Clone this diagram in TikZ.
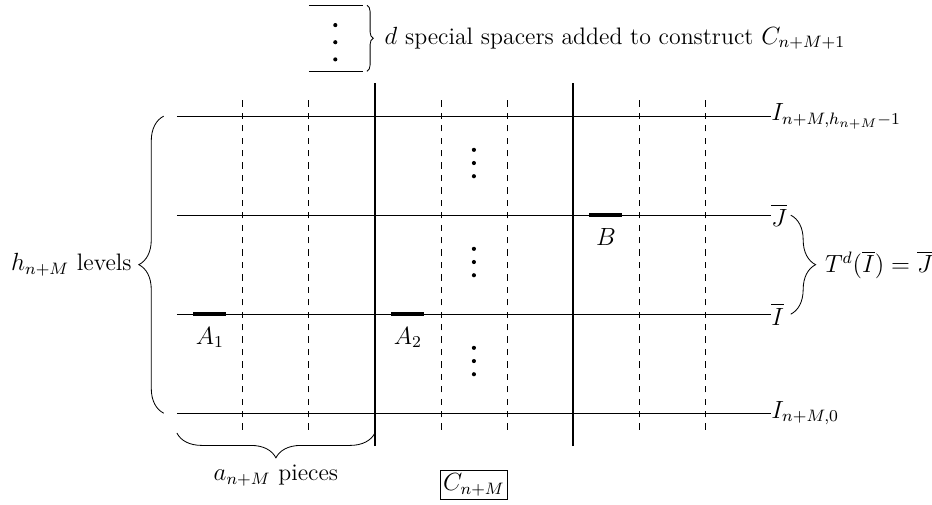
\documentclass[tikz,border=0pt]{standalone}
\usepackage{amsmath,amssymb}
\usetikzlibrary{decorations.pathreplacing,positioning}
\tikzset{
  lvl/.style    ={line width=0.5pt},
  cut/.style    ={thick},
  piece/.style  ={dashed},
  seg/.style    ={line width=1.8pt},
  lvllabel/.style={anchor=west, inner sep=0pt},
  brc/.style    ={decorate, decoration={brace, amplitude=#1}},
  brc/.default=12pt,
}
\newcommand{\dotcol}[3]{% x, middle y, gap
  \foreach \k in {-1,0,1}
    \fill (#1,#2+\k*#3) circle (1pt);}
\begin{document}
\begin{tikzpicture}[x=1.12cm,y=1.12cm,font=\fontsize{11.5}{14}\selectfont]
  \useasboundingbox (-2.68,-1.38) rectangle (11.44,6.26);
  %% levels of the tower
  \coordinate (b0) at (0,0);     \coordinate (b1) at (9,0);
  \coordinate (i0) at (0,1.5);   \coordinate (i1) at (9,1.5);
  \coordinate (j0) at (0,3);     \coordinate (j1) at (9,3);
  \coordinate (t0) at (0,4.5);   \coordinate (t1) at (9,4.5);
  \draw[lvl] (b0) -- (b1) node[lvllabel] (lbot) {$I_{n+M,0}$};
  \draw[lvl] (i0) -- (i1) node[lvllabel] (lI) {$\overline{I}$};
  \draw[lvl] (j0) -- (j1) node[lvllabel] (lJ) {$\overline{J}$};
  \draw[lvl] (t0) -- (t1) node[lvllabel] (ltop) {$I_{n+M,h_{n+M}-1}$};
  %% cuts into pieces
  \foreach \x in {1,2,4,5,7,8}
    \draw[piece] (\x,-0.25) -- (\x,4.75);
  \draw[cut] (3,-0.5) -- (3,5);
  \draw[cut] (6,-0.5) -- (6,5);
  \dotcol{4.5}{3.79}{0.2}
  \dotcol{4.5}{2.29}{0.2}
  \dotcol{4.5}{0.79}{0.2}
  %% marked intervals
  \coordinate (a1w) at (0.25,1.5); \coordinate (a1e) at (0.75,1.5);
  \coordinate (a2w) at (3.25,1.5); \coordinate (a2e) at (3.75,1.5);
  \coordinate (bw) at (6.25,3);    \coordinate (be) at (6.75,3);
  \draw[seg] (a1w) -- (a1e) node[midway, below=2pt] (A1) {$A_1$};
  \draw[seg] (a2w) -- (a2e) node[midway, below=2pt] (A2) {$A_2$};
  \draw[seg] (bw) -- (be) node[midway, below=2pt] (B) {$B$};
  %% braces
  \draw[brc] (-0.2,0) -- (-0.2,4.5)
    node[midway, left=12pt] (hlev) {$h_{n+M}$ levels};
  \draw[brc] (3,-0.3) -- (0,-0.3)
    node[midway, below=12pt] (apie) {$a_{n+M}$ pieces};
  \draw[brc] (9.3,3) -- (9.3,1.5)
    node[midway, right=13pt] (tdi) {$T^d(\overline{I})=\overline{J}$};
  %% spacers on top
  \coordinate (s0) at (2,6.18); \coordinate (s1) at (2.82,6.18);
  \coordinate (s2) at (2,5.18); \coordinate (s3) at (2.82,5.18);
  \draw[lvl] (s0) -- (s1);
  \draw[lvl] (s2) -- (s3);
  \dotcol{2.4}{5.62}{0.26}
  \draw[brc=3pt] (2.88,6.18) -- (2.88,5.18)
    node[midway, right=5pt] (spac) {$d$ special spacers added to construct $C_{n+M+1}$};
  \node[draw, inner sep=1.5pt] (cnm) at (4.5,-1.09) {$C_{n+M}$};
\end{tikzpicture}
\end{document}
